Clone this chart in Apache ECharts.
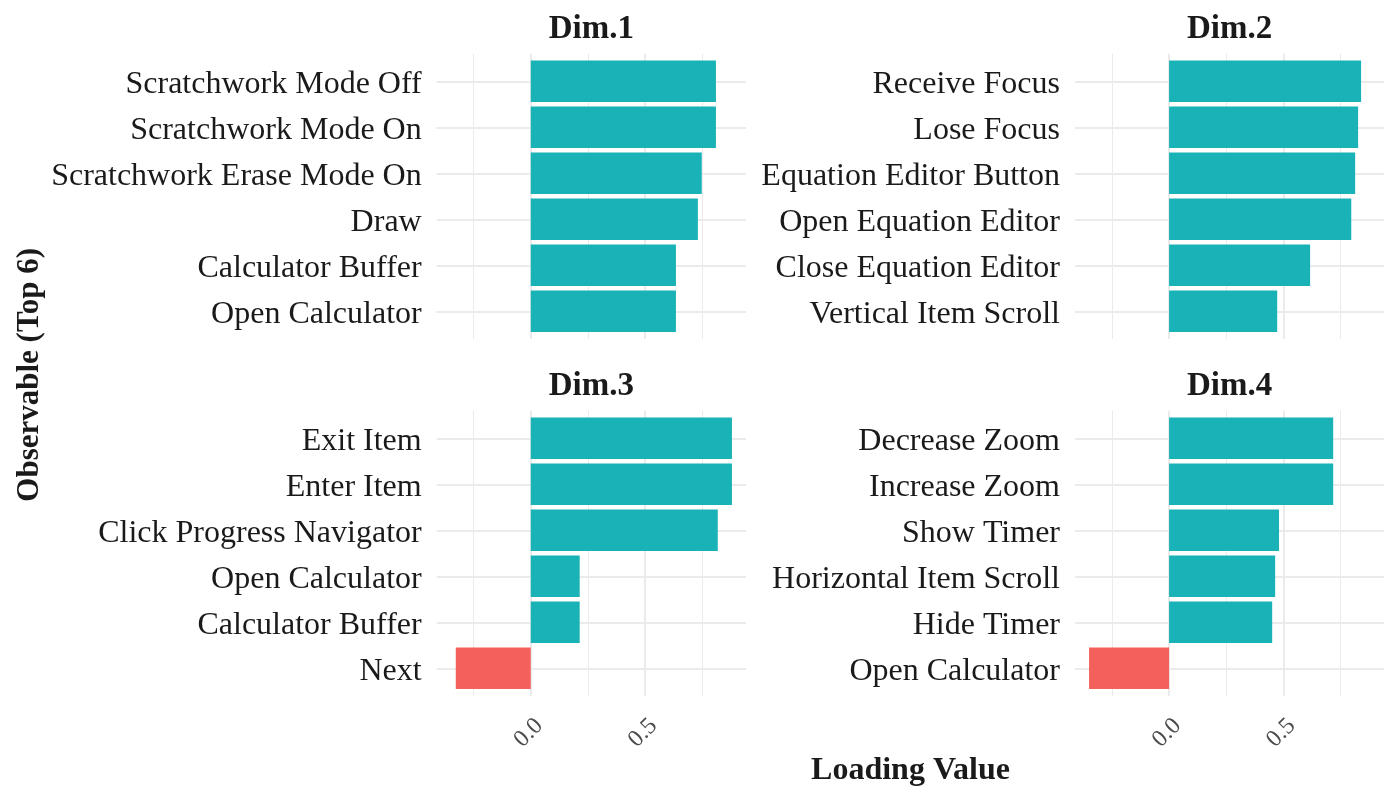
<!DOCTYPE html>
<html><head><meta charset="utf-8">
<script src="https://cdn.jsdelivr.net/npm/echarts@6/dist/echarts.min.js"></script>
<style>html,body{margin:0;padding:0;background:#fff}#c{width:1400px;height:801px}</style>
</head><body><div id="c"></div>
<script>
const panelTitles = ['Dim.1','Dim.2','Dim.3','Dim.4'];
const dim1Labels = ['Scratchwork Mode Off','Scratchwork Mode On','Scratchwork Erase Mode On','Draw','Calculator Buffer','Open Calculator'];
const dim1Values = [0.81,0.81,0.748,0.731,0.635,0.635];
const dim2Labels = ['Receive Focus','Lose Focus','Equation Editor Button','Open Equation Editor','Close Equation Editor','Vertical Item Scroll'];
const dim2Values = [0.84,0.827,0.814,0.797,0.617,0.473];
const dim3Labels = ['Exit Item','Enter Item','Click Progress Navigator','Open Calculator','Calculator Buffer','Next'];
const dim3Values = [0.88,0.88,0.818,0.214,0.214,-0.328];
const dim4Labels = ['Decrease Zoom','Increase Zoom','Show Timer','Horizontal Item Scroll','Hide Timer','Open Calculator'];
const dim4Values = [0.718,0.718,0.481,0.464,0.451,-0.35];
const xMajorTicks = [0, 0.5];
const xMinorTicks = [-0.25, 0.25, 0.75];
const xTickLabels = ['0.0','0.5'];
const xAxisTitle = 'Loading Value';
const yAxisTitle = 'Observable (Top 6)';

const panelLabels = [dim1Labels, dim2Labels, dim3Labels, dim4Labels];
const panelValues = [dim1Values, dim2Values, dim3Values, dim4Values];

const allVals = [].concat(...panelValues);
const vmin = Math.min(...allVals), vmax = Math.max(...allVals);
const pad = (vmax - vmin) * 0.05;
const xMin = vmin - pad, xMax = vmax + pad;

const FONT = 'Liberation Serif';
const TEAL = '#19B2B7', RED = '#F4605B', GRID = '#EBEBEB';
const PW = 309.3, PH = 285.2;
const lefts = [436.7, 1075, 436.7, 1075];
const tops = [53.7, 53.7, 410.7, 410.7];
const band = PH / 6.2;

const grids = [], xAxes = [], yAxes = [], series = [], graphics = [];
for (let i = 0; i < 4; i++) {
  const L = lefts[i], T = tops[i];
  const bottom = i >= 2;
  grids.push({left: L, top: T, width: PW, height: PH, containLabel: false});
  grids.push({left: L, top: T + 0.1 * band, width: PW, height: band * 6, containLabel: false});
  const gBg = 2 * i, gFg = 2 * i + 1;
  // minor vertical lines
  xAxes.push({type: 'value', gridIndex: gBg, position: 'bottom', min: xMin, max: xMax,
    axisLine: {show: false}, axisLabel: {show: false},
    axisTick: {show: false, customValues: xMinorTicks},
    splitLine: {show: true, lineStyle: {color: GRID, width: 1}}});
  // major vertical lines + labels
  xAxes.push({type: 'value', gridIndex: gBg, position: 'bottom', min: xMin, max: xMax,
    axisLine: {show: false},
    axisTick: {show: false, customValues: xMajorTicks},
    axisLabel: {show: bottom, customValues: xMajorTicks, rotate: 45, margin: 18,
      verticalAlign: 'top',
      color: '#4D4D4D', fontFamily: FONT, fontSize: 24,
      formatter: v => xTickLabels[xMajorTicks.findIndex(t => Math.abs(t - v) < 1e-9)]},
    splitLine: {show: true, lineStyle: {color: GRID, width: 2}}});
  // bar x axis
  xAxes.push({type: 'value', gridIndex: gFg, position: 'bottom', min: xMin, max: xMax, show: false,
    splitLine: {show: false}});
  // horizontal lines
  yAxes.push({type: 'value', gridIndex: gBg, position: 'left', min: 0.4, max: 6.6,
    axisLine: {show: false}, axisLabel: {show: false},
    axisTick: {show: false, customValues: [1,2,3,4,5,6]},
    splitLine: {show: true, lineStyle: {color: GRID, width: 2}}});
  // category axis
  yAxes.push({type: 'category', gridIndex: gFg, position: 'left', inverse: true, data: panelLabels[i],
    axisLine: {show: false}, axisTick: {show: false}, splitLine: {show: false},
    axisLabel: {color: '#1A1A1A', fontFamily: FONT, fontSize: 32, margin: 15,
      verticalAlign: 'top', lineHeight: 6}});
  series.push({type: 'bar', xAxisIndex: 3 * i + 2, yAxisIndex: 2 * i + 1,
    barWidth: '90%', silent: true,
    data: panelValues[i].map(v => ({value: v, itemStyle: {color: v < 0 ? RED : TEAL}}))});
  graphics.push({type: 'text', x: L + PW / 2, y: T - 24,
    style: {text: panelTitles[i], fontFamily: FONT, fontWeight: 'bold', fontSize: 33,
      fill: '#1A1A1A', align: 'center', verticalAlign: 'middle'}});
}
graphics.push({type: 'text', x: (lefts[0] + lefts[1] + PW) / 2, y: 771,
  style: {text: xAxisTitle, fontFamily: FONT, fontWeight: 'bold', fontSize: 32,
    fill: '#1A1A1A', align: 'center', verticalAlign: 'middle'}});
graphics.push({type: 'text', x: 30, y: (tops[0] + tops[2] + PH) / 2, rotation: Math.PI / 2,
  style: {text: yAxisTitle, fontFamily: FONT, fontWeight: 'bold', fontSize: 31,
    fill: '#1A1A1A', align: 'center', verticalAlign: 'middle'}});

const chart = echarts.init(document.getElementById('c'), null, {renderer: 'canvas'});
chart.setOption({
  animation: false,
  backgroundColor: '#fff',
  grid: grids, xAxis: xAxes, yAxis: yAxes, series: series, graphic: {elements: graphics}
});
</script></body></html>
